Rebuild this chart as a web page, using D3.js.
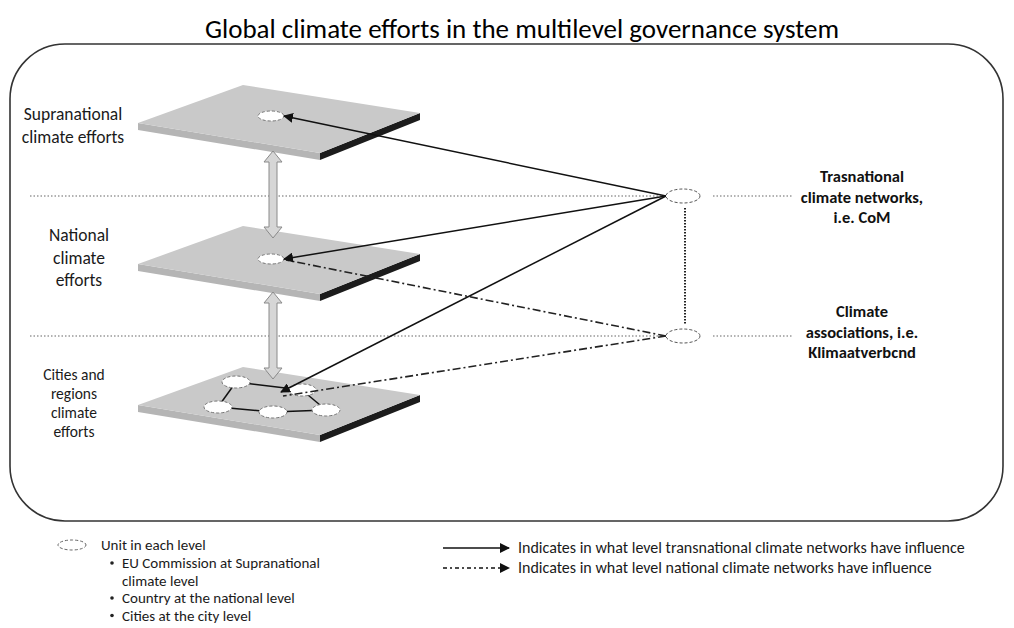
<!DOCTYPE html>
<html>
<head>
<meta charset="utf-8">
<script src="https://cdn.jsdelivr.net/npm/d3@7"></script>
<style>
  html, body { margin: 0; padding: 0; background: #fff; }
  svg { display: block; font-family: Carlito, Lato, "Open Sans", sans-serif; }
</style>
</head>
<body>
<svg width="1014" height="628"></svg>
<script>
// ---- data ----
const levels = ["supranational", "national", "cities"];
const levelLabels = [
  ["Supranational", "climate efforts"],
  ["National", "climate", "efforts"],
  ["Cities and", "regions", "climate", "efforts"]
];
const networkLabels = [
  ["Trasnational", "climate networks,", "i.e. CoM"],
  ["Climate", "associations, i.e.", "Klimaatverbcnd"]
];
// which level each network line reaches
const transnationalTargets = ["supranational", "national", "cities"];
const associationTargets = ["national", "cities"];
// city units on the lowest plane (offset from plane top corner)
const cityUnits = [[-7, 15], [59, 23], [-25, 40], [30, 45], [83, 43]];
const cityLinks = [[0, 2], [2, 3], [3, 4], [4, 1], [0, 1]];
const unitBullets = [
  ["EU Commission at Supranational", "climate level"],
  ["Country at the national level"],
  ["Cities at the city level"]
];
const legendLines = [
  "Indicates in what level transnational climate networks have influence",
  "Indicates in what level national climate networks have influence"
];

// ---- layout ----
const svg = d3.select("svg");

const y = d3.scalePoint().domain(levels).range([85, 367]);
const sepY = d3.scalePoint().domain(levels.slice(0, 2)).range([196, 336]);

const plane = { L: [138, 38], T: [243, 0], R: [420, 28], B: [320, 68] };
const thick = 7;
const netX = 683;

svg.append("text")
  .attr("x", 522).attr("y", 38)
  .attr("text-anchor", "middle")
  .attr("font-size", 27)
  .attr("fill", "#000")
  .text("Global climate efforts in the multilevel governance system");

svg.append("rect")
  .attr("x", 10).attr("y", 44)
  .attr("width", 993).attr("height", 477)
  .attr("rx", 55).attr("ry", 55)
  .attr("fill", "none")
  .attr("stroke", "#333")
  .attr("stroke-width", 1.6);

const defs = svg.append("defs");
defs.append("marker")
  .attr("id", "head")
  .attr("viewBox", "0 0 10 10")
  .attr("refX", 9).attr("refY", 5)
  .attr("markerWidth", 10).attr("markerHeight", 10)
  .attr("markerUnits", "userSpaceOnUse")
  .attr("orient", "auto")
  .append("path")
  .attr("d", "M0,0L10,5L0,10z")
  .attr("fill", "#111");

// dotted separators
const sep = svg.append("g")
  .attr("stroke", "#999")
  .attr("stroke-width", 1.5)
  .attr("stroke-dasharray", "1.5,2");
sepY.domain().forEach(d => {
  sep.append("line").attr("x1", 30).attr("x2", netX - 20).attr("y1", sepY(d)).attr("y2", sepY(d));
  sep.append("line").attr("x1", 713).attr("x2", 793).attr("y1", sepY(d)).attr("y2", sepY(d));
});
svg.append("line")
  .attr("x1", netX + 2).attr("x2", netX + 2)
  .attr("y1", sepY("supranational") + 12).attr("y2", sepY("national") - 12)
  .attr("stroke", "#222")
  .attr("stroke-width", 2)
  .attr("stroke-dasharray", "1.5,1.5");

// planes
const pt = (k, y0) => [plane[k][0], y0 + plane[k][1]];
const down = p => [p[0], p[1] + thick];

levels.forEach(lv => {
  const y0 = y(lv);
  const g = svg.append("g");
  const L = pt("L", y0), T = pt("T", y0), R = pt("R", y0), B = pt("B", y0);
  g.append("polygon")
    .attr("points", [L, B, down(B), down(L)].join(" "))
    .attr("fill", "#b5b5b5");
  g.append("polygon")
    .attr("points", [B, R, down(R), down(B)].join(" "))
    .attr("fill", "#1c1c1c");
  g.append("polygon")
    .attr("points", [L, T, R, B].join(" "))
    .attr("fill", "#c9c9c9");
});

// double arrows between planes
const dbl = (x, y1, y2) => {
  const w = 4, hw = 9, hl = 11;
  return [[x, y1], [x + hw, y1 + hl], [x + w, y1 + hl], [x + w, y2 - hl], [x + hw, y2 - hl],
          [x, y2], [x - hw, y2 - hl], [x - w, y2 - hl], [x - w, y1 + hl], [x - hw, y1 + hl]].join(" ");
};
levels.slice(0, 2).forEach((lv, i) => {
  svg.append("polygon")
    .attr("points", dbl(273, y(lv) + 66, y(levels[i + 1]) + 12))
    .attr("fill", "#d6d6d6")
    .attr("stroke", "#8a8a8a")
    .attr("stroke-width", 1);
});

// level labels: [centre x, font size, line height, first baseline]
const labelCfg = {
  supranational: [73, 17.5, 23, 120],
  national: [79, 17.5, 22.5, 241],
  cities: [74, 15.5, 19, 380]
};
levels.forEach((lv, i) => {
  const [cx, fs, lh, by] = labelCfg[lv];
  svg.append("text")
    .attr("text-anchor", "middle")
    .attr("font-size", fs)
    .attr("fill", "#1a1a1a")
    .selectAll("tspan")
    .data(levelLabels[i])
    .join("tspan")
    .attr("x", cx)
    .attr("y", (d, j) => by + j * lh)
    .text(d => d);
});

// unit ellipses
const unit = (g, cx, cy, rx, ry) => g.append("ellipse")
  .attr("cx", cx).attr("cy", cy).attr("rx", rx).attr("ry", ry)
  .attr("fill", "#fff")
  .attr("stroke", "#777")
  .attr("stroke-width", 1)
  .attr("stroke-dasharray", "3,2");

const unitPos = {
  supranational: [271, y("supranational") + 31],
  national: [271, y("national") + 33],
  cities: [281, y("cities") + 25]
};

// city network
const cityG = svg.append("g");
const cityPts = cityUnits.map(([dx, dy]) => [plane.T[0] + dx, y("cities") + dy]);
cityG.selectAll("line")
  .data(cityLinks)
  .join("line")
  .attr("x1", d => cityPts[d[0]][0]).attr("y1", d => cityPts[d[0]][1])
  .attr("x2", d => cityPts[d[1]][0]).attr("y2", d => cityPts[d[1]][1])
  .attr("stroke", "#111")
  .attr("stroke-width", 1.5);
cityPts.forEach(p => unit(cityG, p[0], p[1], 14, 6));

unit(svg, ...unitPos.supranational, 13, 5);
unit(svg, ...unitPos.national, 13, 5);

// influence lines
const src = [[netX - 17, sepY("supranational")], [netX - 17, sepY("national")]];
const endFor = lv => lv === "cities" ? [unitPos.cities[0], unitPos.cities[1]] : [unitPos[lv][0] + 13, unitPos[lv][1]];

associationTargets.forEach(lv => {
  const e = endFor(lv);
  svg.append("line")
    .attr("x1", src[1][0]).attr("y1", src[1][1])
    .attr("x2", e[0] + 2).attr("y2", e[1] + (lv === "cities" ? 4 : 1))
    .attr("stroke", "#222")
    .attr("stroke-width", 1.6)
    .attr("stroke-dasharray", "8,3,2,3");
});
transnationalTargets.forEach(lv => {
  const e = endFor(lv);
  svg.append("line")
    .attr("x1", src[0][0]).attr("y1", src[0][1])
    .attr("x2", e[0]).attr("y2", e[1])
    .attr("stroke", "#111")
    .attr("stroke-width", 1.5)
    .attr("marker-end", "url(#head)");
});

// network nodes + labels (first baseline offset from separator)
const netLabelTop = [-14, -19];
sepY.domain().forEach((d, i) => {
  unit(svg, netX, sepY(d), 17, 7).attr("stroke", "#555");
  svg.append("text")
    .attr("text-anchor", "middle")
    .attr("font-size", 16.5)
    .attr("font-weight", "bold")
    .attr("fill", "#111")
    .selectAll("tspan")
    .data(networkLabels[i])
    .join("tspan")
    .attr("x", 862)
    .attr("y", (t, j) => sepY(d) + netLabelTop[i] + j * 20.5)
    .text(t => t);
});

// ---- legend ----
const leg = svg.append("g").attr("font-size", 15).attr("fill", "#1a1a1a");
unit(leg, 72, 545, 14, 5).attr("stroke", "#666");
leg.append("text").attr("x", 101).attr("y", 550).text("Unit in each level");
let ly = 568;
unitBullets.forEach(lines => {
  leg.append("circle").attr("cx", 112).attr("cy", ly - 5).attr("r", 1.8).attr("fill", "#222");
  lines.forEach(t => {
    leg.append("text").attr("x", 122).attr("y", ly).text(t);
    ly += 17.5;
  });
});

legendLines.forEach((t, i) => {
  const ly2 = 548 + i * 20;
  leg.append("line")
    .attr("x1", 443).attr("x2", 509)
    .attr("y1", ly2).attr("y2", ly2)
    .attr("stroke", "#111")
    .attr("stroke-width", 1.5)
    .attr("stroke-dasharray", i === 0 ? null : "4,3,2,3")
    .attr("marker-end", "url(#head)");
  leg.append("text").attr("x", 518).attr("y", ly2 + 5)
    .attr("font-size", 16).text(t);
});
</script>
</body>
</html>
